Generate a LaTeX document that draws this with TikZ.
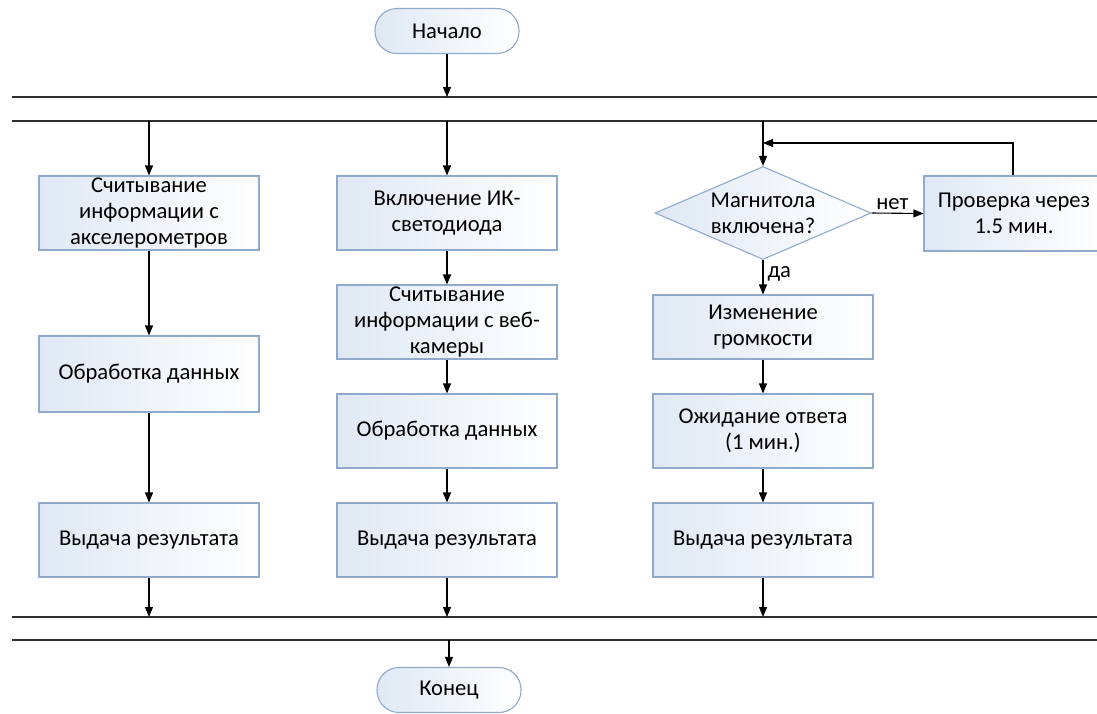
\documentclass[tikz,border=0pt]{standalone}
\usepackage{fontspec}
\setmainfont{Carlito}
\usetikzlibrary{arrows.meta,shapes.geometric}
\definecolor{boxblue}{HTML}{DFE8F4}
\definecolor{boxedge}{HTML}{8FAACB}
\definecolor{lineclr}{HTML}{303030}
\tikzset{
  proc/.style={draw=boxedge, line width=1.1pt, left color=boxblue, right color=white,
    minimum width=220pt, minimum height=74pt, inner sep=0pt, align=center,
    font=\fontsize{22.6}{26}\selectfont},
  term/.style={draw=boxedge, line width=1.1pt, left color=boxblue, right color=white,
    rounded corners=22pt, minimum width=144pt, minimum height=45pt, inner sep=0pt,
    font=\fontsize{22.6}{26}\selectfont},
  dec/.style={draw=boxedge, line width=1.1pt, diamond, left color=boxblue, right color=white,
    minimum width=216pt, minimum height=93pt, inner sep=0pt},
  txt/.style={align=center, font=\fontsize{22.6}{26}\selectfont, inner sep=0pt},
  conn/.style={draw=black, line width=1.1pt, -{Triangle[length=10pt,width=8pt]}},
  sync/.style={draw=lineclr, line width=1.5pt}
}
\begin{document}
\begin{tikzpicture}[x=1pt,y=-1pt]
\useasboundingbox (0,0) rectangle (1097,713);
% sync lines
\coordinate (t1l) at (12,97);  \coordinate (t1r) at (1100,97);
\coordinate (t2l) at (12,121); \coordinate (t2r) at (1100,121);
\coordinate (b1l) at (12,617); \coordinate (b1r) at (1100,617);
\coordinate (b2l) at (12,640); \coordinate (b2r) at (1100,640);
\draw[sync] (t1l) -- (t1r);
\draw[sync] (t2l) -- (t2r);
\draw[sync] (b1l) -- (b1r);
\draw[sync] (b2l) -- (b2r);

\node[term] (start) at (447,31) {Начало};
\node[term] (end) at (449,690) {Конец};

% column 1
\node[proc] (a1) at (149,213) {Считывание\\информации с\\акселерометров};
\node[proc, minimum height=76pt] (a2) at (149,374) {Обработка данных};
\node[proc] (a3) at (149,540) {Выдача результата};

% column 2
\node[proc] (b1) at (447,213) {Включение ИК-\\светодиода};
\node[proc] (b2) at (447,322) {Считывание\\информации с веб-\\камеры};
\node[proc] (b3) at (447,431) {Обработка данных};
\node[proc] (b4) at (447,540) {Выдача результата};

% column 3
\node[dec] (d) at (763,213) {};
\node[txt] at (d) {Магнитола\\включена?};
\node[proc, minimum height=64pt] (c1) at (763,327) {Изменение\\громкости};
\node[proc] (c2) at (763,431) {Ожидание ответа\\(1 мин.)};
\node[proc] (c3) at (763,540) {Выдача результата};
\node[proc, minimum width=180pt, minimum height=75pt] (p) at (1014,213.5) {Проверка через\\1.5 мин.};

% coordinates on sync lines
\coordinate (s0) at (447,97);
\coordinate (s1) at (149,121);
\coordinate (s2) at (447,121);
\coordinate (s3) at (763,121);
\coordinate (e1) at (149,617);
\coordinate (e2) at (447,617);
\coordinate (e3) at (763,617);
\coordinate (e0) at (449,640);
\coordinate (loopc) at (763,143);

% connectors
\draw[conn] (start) -- (s0);
\draw[conn] (s1) -- (a1);
\draw[conn] (s2) -- (b1);
\draw[conn] (s3) -- (d);
\draw[conn] (a1) -- (a2);
\draw[conn] (a2) -- (a3);
\draw[conn] (a3) -- (e1);
\draw[conn] (b1) -- (b2);
\draw[conn] (b2) -- (b3);
\draw[conn] (b3) -- (b4);
\draw[conn] (b4) -- (e2);
\draw[conn] (d) -- node[txt, right=4pt, pos=0.4] {да} (c1);
\draw[conn] (d.east) -- node[txt, above=3pt, pos=0.4] {нет} (p.west);
\draw[conn] (c1) -- (c2);
\draw[conn] (c2) -- (c3);
\draw[conn] (c3) -- (e3);
\draw[conn] (p.north -| 1013,0) |- (loopc);
\draw[conn] (e0) -- (end);
\end{tikzpicture}
\end{document}
